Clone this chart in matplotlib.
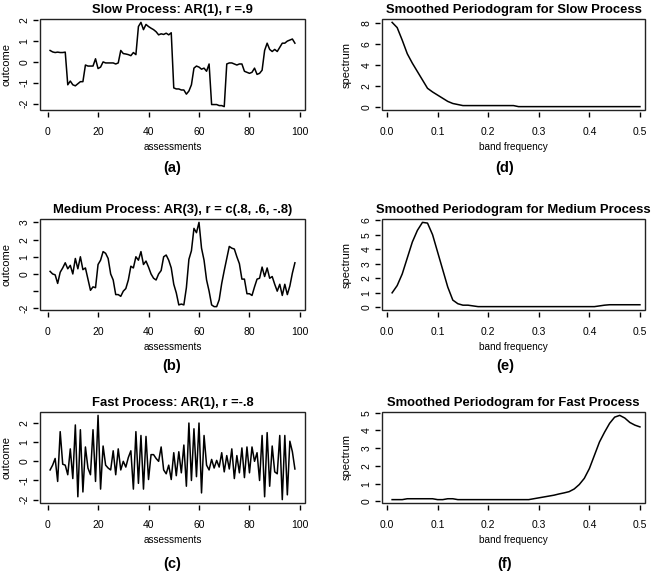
import numpy as np
import matplotlib
matplotlib.use("Agg")
import matplotlib.pyplot as plt
from matplotlib import rcParams
from matplotlib.patches import Rectangle

rcParams.update({
    "font.family": ["Liberation Sans", "DejaVu Sans"],
    "font.size": 7.5,
    "axes.linewidth": 1.0,
    "xtick.major.width": 1.0,
    "ytick.major.width": 1.0,
    "xtick.major.size": 3.6,
    "ytick.major.size": 3.6,
})

# time series (assessments 1..98)
slow = [0.55, 0.48, 0.45, 0.47, 0.45, 0.45, 0.47, -1.1, -0.92, -1.1, -1.15, -1.05, -0.95, -0.95,
        -0.15, -0.2, -0.2, -0.2, 0.15, -0.32, -0.25, 0.0, -0.05, -0.05, -0.05, -0.05, -0.1, -0.05,
        0.55, 0.4, 0.38, 0.35, 0.3, 0.45, 0.35,
        1.7, 1.9, 1.55, 1.8, 1.7, 1.62, 1.55, 1.45, 1.3, 1.35, 1.32, 1.38, 1.3, 1.4,
        -1.25, -1.3, -1.3, -1.35, -1.35, -1.55, -1.4, -1.1,
        -0.3, -0.2, -0.25, -0.35, -0.3, -0.45, -0.1,
        -2.05, -2.05, -2.05, -2.1, -2.1, -2.15,
        -0.1, -0.05, -0.05, -0.1, -0.15, -0.1, -0.1,
        -0.45, -0.5, -0.55, -0.5, -0.3, -0.6, -0.55, -0.4,
        0.55, 0.9, 0.6, 0.5, 0.6, 0.5, 0.7, 0.9, 0.9, 1.0, 1.05, 1.1, 0.9]

medium = [0.15, 0.0, -0.05, -0.55, 0.1, 0.35, 0.65, 0.3, 0.5, 0.0, 0.9, 0.3, 1.0, 0.25, 0.35,
          -0.3, -0.95, -0.75, -0.8, 0.55, 0.8, 1.3, 1.2, 0.9, 0.0, -0.35, -1.2, -1.2, -1.3, -1.0,
          -0.85, -0.35, 0.45, 0.35, 1.0, 0.8, 1.3, 0.55, 0.75, 0.4, 0.0, -0.25, -0.35, 0.0, 0.2,
          1.0, 1.1, 0.8, 0.35, -0.6, -1.1, -1.8, -1.75, -1.8, -0.8, 0.85, 1.35, 2.65, 2.4, 3.0,
          1.5, 0.8, -0.35, -1.0, -1.8, -1.9, -1.9, -1.5, -0.55, 0.2, 0.9, 1.6, 1.5, 1.45, 1.0,
          0.6, -0.3, -0.3, -1.15, -1.15, -1.25, -0.75, -0.3, -0.25, 0.4, -0.15, 0.35, -0.25, -0.15,
          -0.6, -1.0, -0.6, -1.25, -0.6, -1.2, -0.7, 0.05, 0.65]

fast = [-0.45, -0.2, 0.15, -1.05, 1.55, -0.15, -0.2, -0.7, 0.65, -0.9, 1.9, -1.85, 1.65, -1.6,
        0.75, -0.35, -0.7, 1.65, -1.05, 2.4, -1.45, 0.8, -0.2, -0.35, -0.45, 0.55, -0.7, 0.65,
        -0.45, 0.0, -0.3, 0.2, 0.55, -1.45, 1.55, -1.15, 1.35, -1.45, 1.3, -0.95, 0.35, 0.35,
        0.15, 0.0, 0.75, -0.45, -0.65, -0.2, -0.95, 0.45, -0.75, 0.5, -0.6, 0.85, -1.3, 2.0,
        -1.0, 1.7, -0.8, 2.0, -1.65, 1.35,
        -0.2, -0.45, 0.1, -0.35, 0.05, -0.3, 0.45, -0.55, 0.3, -0.4, 0.65, -0.9, 0.3, -0.6, 0.7,
        -0.85, 0.75, -0.6, 0.75, 0.0, 0.45,
        -1.0, 1.35, -1.85, 1.5, -1.3, 0.8, -0.55, -0.65, 1.35, -2.0, 1.35, -1.75, 1.05, 0.5, -0.4]

assessments = np.arange(1, 99)

# smoothed periodograms (band frequency .01 .. .50)
freq = np.arange(1, 51) / 100
spec_slow = [8.1, 7.6, 6.4, 5.1, 4.2, 3.4, 2.6, 1.8, 1.45, 1.15, 0.85, 0.55, 0.35, 0.25, 0.15] \
    + [0.15] * 10 + [0.05] * 25
spec_medium = [1.0, 1.5, 2.3, 3.4, 4.5, 5.3, 5.85, 5.8, 5.0, 3.8, 2.6, 1.4, 0.5, 0.25, 0.15,
               0.15, 0.1] + [0.05] * 24 + [0.1, 0.15] + [0.18] * 7
spec_fast = [0.1, 0.1, 0.1] + [0.15] * 6 + [0.1, 0.1, 0.15, 0.15] + [0.1] * 15 \
    + [0.15, 0.2, 0.25, 0.3, 0.35, 0.42, 0.48, 0.55, 0.7, 0.95, 1.3, 1.85, 2.6, 3.35, 3.9,
       4.4, 4.75, 4.85, 4.7, 4.45, 4.3, 4.2]

W, H = 663, 573
fig = plt.figure(figsize=(W / 100, H / 100), dpi=100)


def add_ax(l, t, r, b):
    return fig.add_axes([l / W, 1 - b / H, (r - l) / W, (b - t) / H])


def style(ax):
    # R-like: box around the plot, axis ticks set slightly away from it
    ax.margins(x=0.04, y=0.04)
    for sp in ["bottom", "left"]:
        ax.spines[sp].set_position(("outward", 1.5))
        ax.spines[sp].set_visible(False)
    for sp in ["top", "right"]:
        ax.spines[sp].set_visible(False)
    ax.add_patch(Rectangle((0, 0), 1, 1, transform=ax.transAxes, fill=False,
                           lw=1.0, ec="#222222", clip_on=False, zorder=3))
    ax.tick_params(axis="y", pad=2.5)
    ax.tick_params(axis="x", pad=7)


rows = [(19, 110), (219, 310), (412, 503)]
tag_y = [168, 366, 564]
left_titles = ["Slow Process: AR(1), r =.9",
               "Medium Process: AR(3), r = c(.8, .6, -.8)",
               "Fast Process: AR(1), r =-.8"]
right_titles = ["Smoothed Periodogram for Slow Process",
                "Smoothed Periodogram for Medium Process",
                "Smoothed Periodogram for Fast Process"]
series = [slow, medium, fast]
spectra = [spec_slow, spec_medium, spec_fast]
left_tags = ["(a)", "(b)", "(c)"]
right_tags = ["(d)", "(e)", "(f)"]
ytick_sets = [([-2, -1, 0, 1, 2], ["-2", "-1", "0", "1", "2"]),
              ([-2, -1, 0, 1, 2, 3], ["-2", "", "0", "1", "2", "3"]),
              ([-2, -1, 0, 1, 2], ["-2", "-1", "0", "1", "2"])]
spec_ticks = [[0, 2, 4, 6, 8], [0, 1, 2, 3, 4, 5, 6], [0, 1, 2, 3, 4, 5]]

for i, (t, b) in enumerate(rows):
    ax = add_ax(40, t, 305, b)
    ax.plot(assessments, series[i], color="black", linewidth=1.1)
    style(ax)
    ax.set_xlim(-3, 102)
    ax.set_xticks([0, 20, 40, 60, 80, 100])
    ax.set_yticks(ytick_sets[i][0])
    ax.set_yticklabels(ytick_sets[i][1], rotation=90, va="center")
    ax.set_title(left_titles[i], fontsize=9.4, fontweight="bold", pad=4)
    ax.set_ylabel("outcome", fontsize=8, labelpad=6)
    ax.set_xlabel("assessments", fontsize=7.2, labelpad=4)
    fig.text(172 / W, 1 - tag_y[i] / H, left_tags[i], fontsize=10.5, fontweight="bold",
             ha="center", va="center")

    ax2 = add_ax(382, t, 645, b)
    ax2.plot(freq, spectra[i], color="black", linewidth=1.1)
    style(ax2)
    ax2.set_xlim(-0.01, 0.51)
    ax2.set_xticks([0.0, 0.1, 0.2, 0.3, 0.4, 0.5])
    ax2.set_xticklabels(["0.0", "0.1", "0.2", "0.3", "0.4", "0.5"])
    ax2.set_yticks(spec_ticks[i])
    ax2.set_yticklabels([str(v) for v in spec_ticks[i]], rotation=90, va="center")
    ax2.set_title(right_titles[i], fontsize=9.4, fontweight="bold", pad=4)
    ax2.set_ylabel("spectrum", fontsize=8, labelpad=7)
    ax2.set_xlabel("band frequency", fontsize=7.2, labelpad=4)
    fig.text(505 / W, 1 - tag_y[i] / H, right_tags[i], fontsize=10.5, fontweight="bold",
             ha="center", va="center")

fig.savefig("out.png", dpi=100)
